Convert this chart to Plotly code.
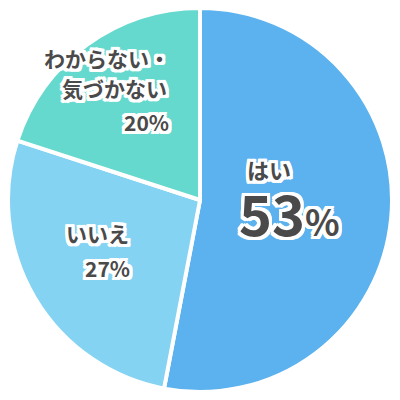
import plotly.graph_objects as go

labels = ["はい", "いいえ", "わからない・<br>気づかない"]
values = [53, 27, 20]
colors = ["#5BB2EE", "#85D3F2", "#65D9CD"]

FONT = "Noto Sans CJK JP"
INK = "#4A4A4A"
# white outline around the labels
halo = ", ".join("%dpx %dpx 0 #ffffff" % (dx, dy)
                 for dx in (-3, -2, 0, 2, 3) for dy in (-3, -2, 0, 2, 3)
                 if (dx, dy) != (0, 0))

fig = go.Figure(go.Pie(
    labels=labels,
    values=values,
    sort=False,
    direction="clockwise",
    rotation=0,
    marker=dict(colors=colors, line=dict(color="#ffffff", width=4)),
    textinfo="none",
    hoverinfo="label+percent",
    showlegend=False,
))

def note(text, x, y, size, anchor="center"):
    fig.add_annotation(
        text=text, x=x, y=y, xref="paper", yref="paper",
        xanchor=anchor, yanchor="middle", align=anchor if anchor != "center" else "center",
        showarrow=False,
        font=dict(family=FONT, size=size, color=INK, weight="bold", shadow=halo),
    )

# はい
note(labels[0], 0.680, 0.582, 22)
note("%d<span style='font-size:36px'>%%</span>" % values[0], 0.734, 0.469, 56)
# いいえ
note(labels[1], 0.232, 0.414, 21)
note("%d%%" % values[1], 0.258, 0.323, 21)
# わからない・気づかない (one annotation per line for the wider spacing)
line1, line2 = labels[2].split("<br>")
note(line1, 0.427, 0.870, 21, anchor="right")
note(line2, 0.420, 0.792, 21, anchor="right")
note("%d%%" % values[2], 0.425, 0.703, 21, anchor="right")

# page body adds an 8px offset, so keep the pie centred in the window
fig.update_layout(
    width=400, height=400,
    margin=dict(l=0, r=16, t=0, b=16),
    paper_bgcolor="#ffffff",
    plot_bgcolor="#ffffff",
)

fig.write_html("out.html")
